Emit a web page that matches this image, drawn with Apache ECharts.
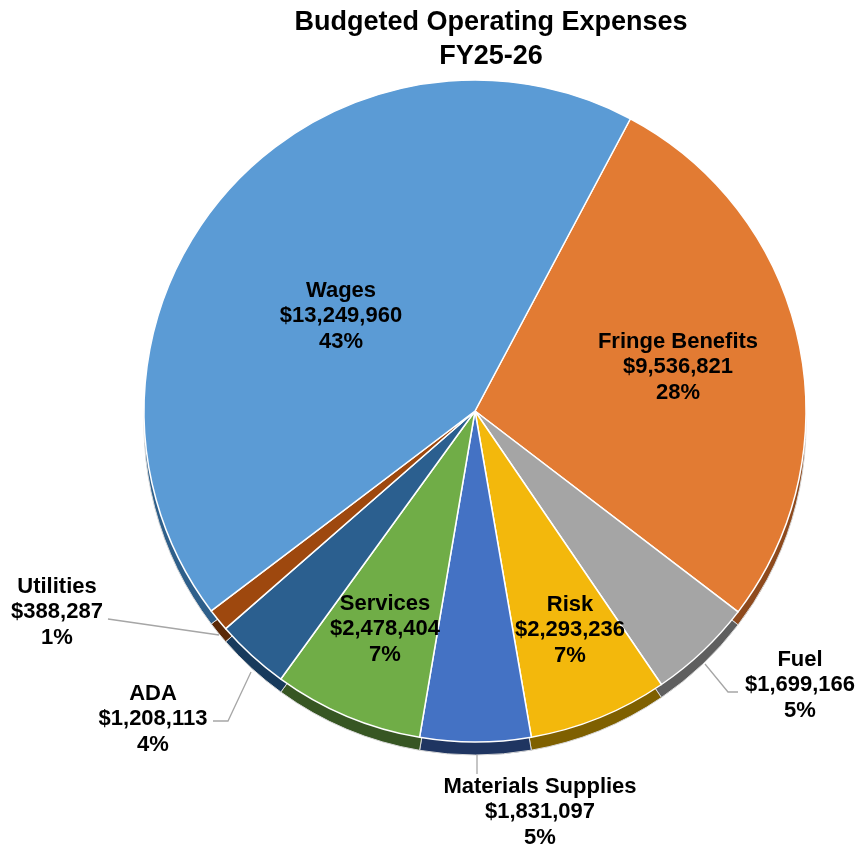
<!DOCTYPE html>
<html>
<head>
<meta charset="utf-8">
<script src="https://cdn.jsdelivr.net/npm/echarts@6/dist/echarts.min.js"></script>
<style>
html,body{margin:0;padding:0;background:#fff;}
#chart{width:856px;height:849px;}
</style>
</head>
<body>
<div id="chart"></div>
<script>
// ---- data ----
const categories = ['Fringe Benefits', 'Fuel', 'Risk', 'Materials Supplies', 'Services', 'ADA', 'Utilities', 'Wages'];
const amountLabels = ['$9,536,821', '$1,699,166', '$2,293,236', '$1,831,097', '$2,478,404', '$1,208,113', '$388,287', '$13,249,960'];
const percentLabels = ['28%', '5%', '7%', '5%', '7%', '4%', '1%', '43%'];
// slice sizes as drawn (share of the circle, %)
const sliceShares = [27.6, 5.1, 6.8, 5.4, 7.3, 3.6, 1.1, 43.1];

// ---- styling / layout ----
const topColors  = ['#e27b33', '#a5a5a5', '#f3b80c', '#4472c4', '#70ad47', '#2b5f8f', '#9e480e', '#5b9bd5'];
const sideColors = ['#8e4a1d', '#5f5f5f', '#7f6000', '#1f3561', '#375623', '#173a5c', '#5a2908', '#2e5f8a'];
const outside = [false, true, false, true, false, true, true, false];
const labelPos = [[678, 367], [800, 685], [570, 630], [540, 812], [385, 629], [153, 719], [57, 612], [341, 316]];
const leaderLines = {
  1: [[705, 664], [728, 692], [738, 692]],
  3: [[477, 755], [477, 774]],
  5: [[251, 672], [228, 721], [213, 721]],
  6: [[219, 635], [108, 619]]
};

const center = [475, 411];
const radius = 331;
const depth = 13;
const startAngle = 62;

const chart = echarts.init(document.getElementById('chart'), null, {renderer: 'canvas'});

const topData = categories.map((c, i) => ({
  name: c,
  value: sliceShares[i],
  itemStyle: {color: topColors[i]},
  label: {position: outside[i] ? 'outside' : 'inside'},
  labelLine: {show: outside[i]}
}));
const sideData = categories.map((c, i) => ({
  name: c,
  value: sliceShares[i],
  itemStyle: {color: sideColors[i]}
}));

chart.setOption({
  backgroundColor: '#ffffff',
  animation: false,
  title: {
    text: 'Budgeted Operating Expenses\nFY25-26',
    left: 486,
    top: 1,
    textAlign: 'center',
    textStyle: {
      fontFamily: 'Liberation Sans, Arial, sans-serif',
      fontWeight: 'bold',
      fontSize: 27,
      lineHeight: 34,
      color: '#000'
    }
  },
  series: [
    {
      type: 'pie',
      name: 'side',
      silent: true,
      z: 1,
      center: [center[0], center[1] + depth],
      radius: radius,
      startAngle: startAngle,
      clockwise: true,
      label: {show: false},
      labelLine: {show: false},
      itemStyle: {borderColor: '#d9d9d9', borderWidth: 1},
      data: sideData
    },
    {
      type: 'pie',
      name: 'Budgeted Operating Expenses',
      z: 2,
      center: center,
      radius: radius,
      startAngle: startAngle,
      clockwise: true,
      itemStyle: {borderColor: '#ffffff', borderWidth: 1.5},
      emphasis: {disabled: true},
      label: {
        show: true,
        fontFamily: 'Liberation Sans, Arial, sans-serif',
        fontWeight: 'bold',
        fontSize: 22,
        lineHeight: 25.5,
        color: '#000',
        align: 'center',
        formatter: p => p.name + '\n' + amountLabels[p.dataIndex] + '\n' + percentLabels[p.dataIndex]
      },
      labelLine: {
        show: true,
        length: 15,
        length2: 10,
        lineStyle: {color: '#a6a6a6', width: 1.3}
      },
      labelLayout: function (params) {
        const i = params.dataIndex;
        const p = labelPos[i];
        const out = {x: p[0], y: p[1], align: 'center', verticalAlign: 'middle'};
        if (leaderLines[i]) out.labelLinePoints = leaderLines[i];
        return out;
      },
      data: topData
    }
  ]
});
</script>
</body>
</html>
